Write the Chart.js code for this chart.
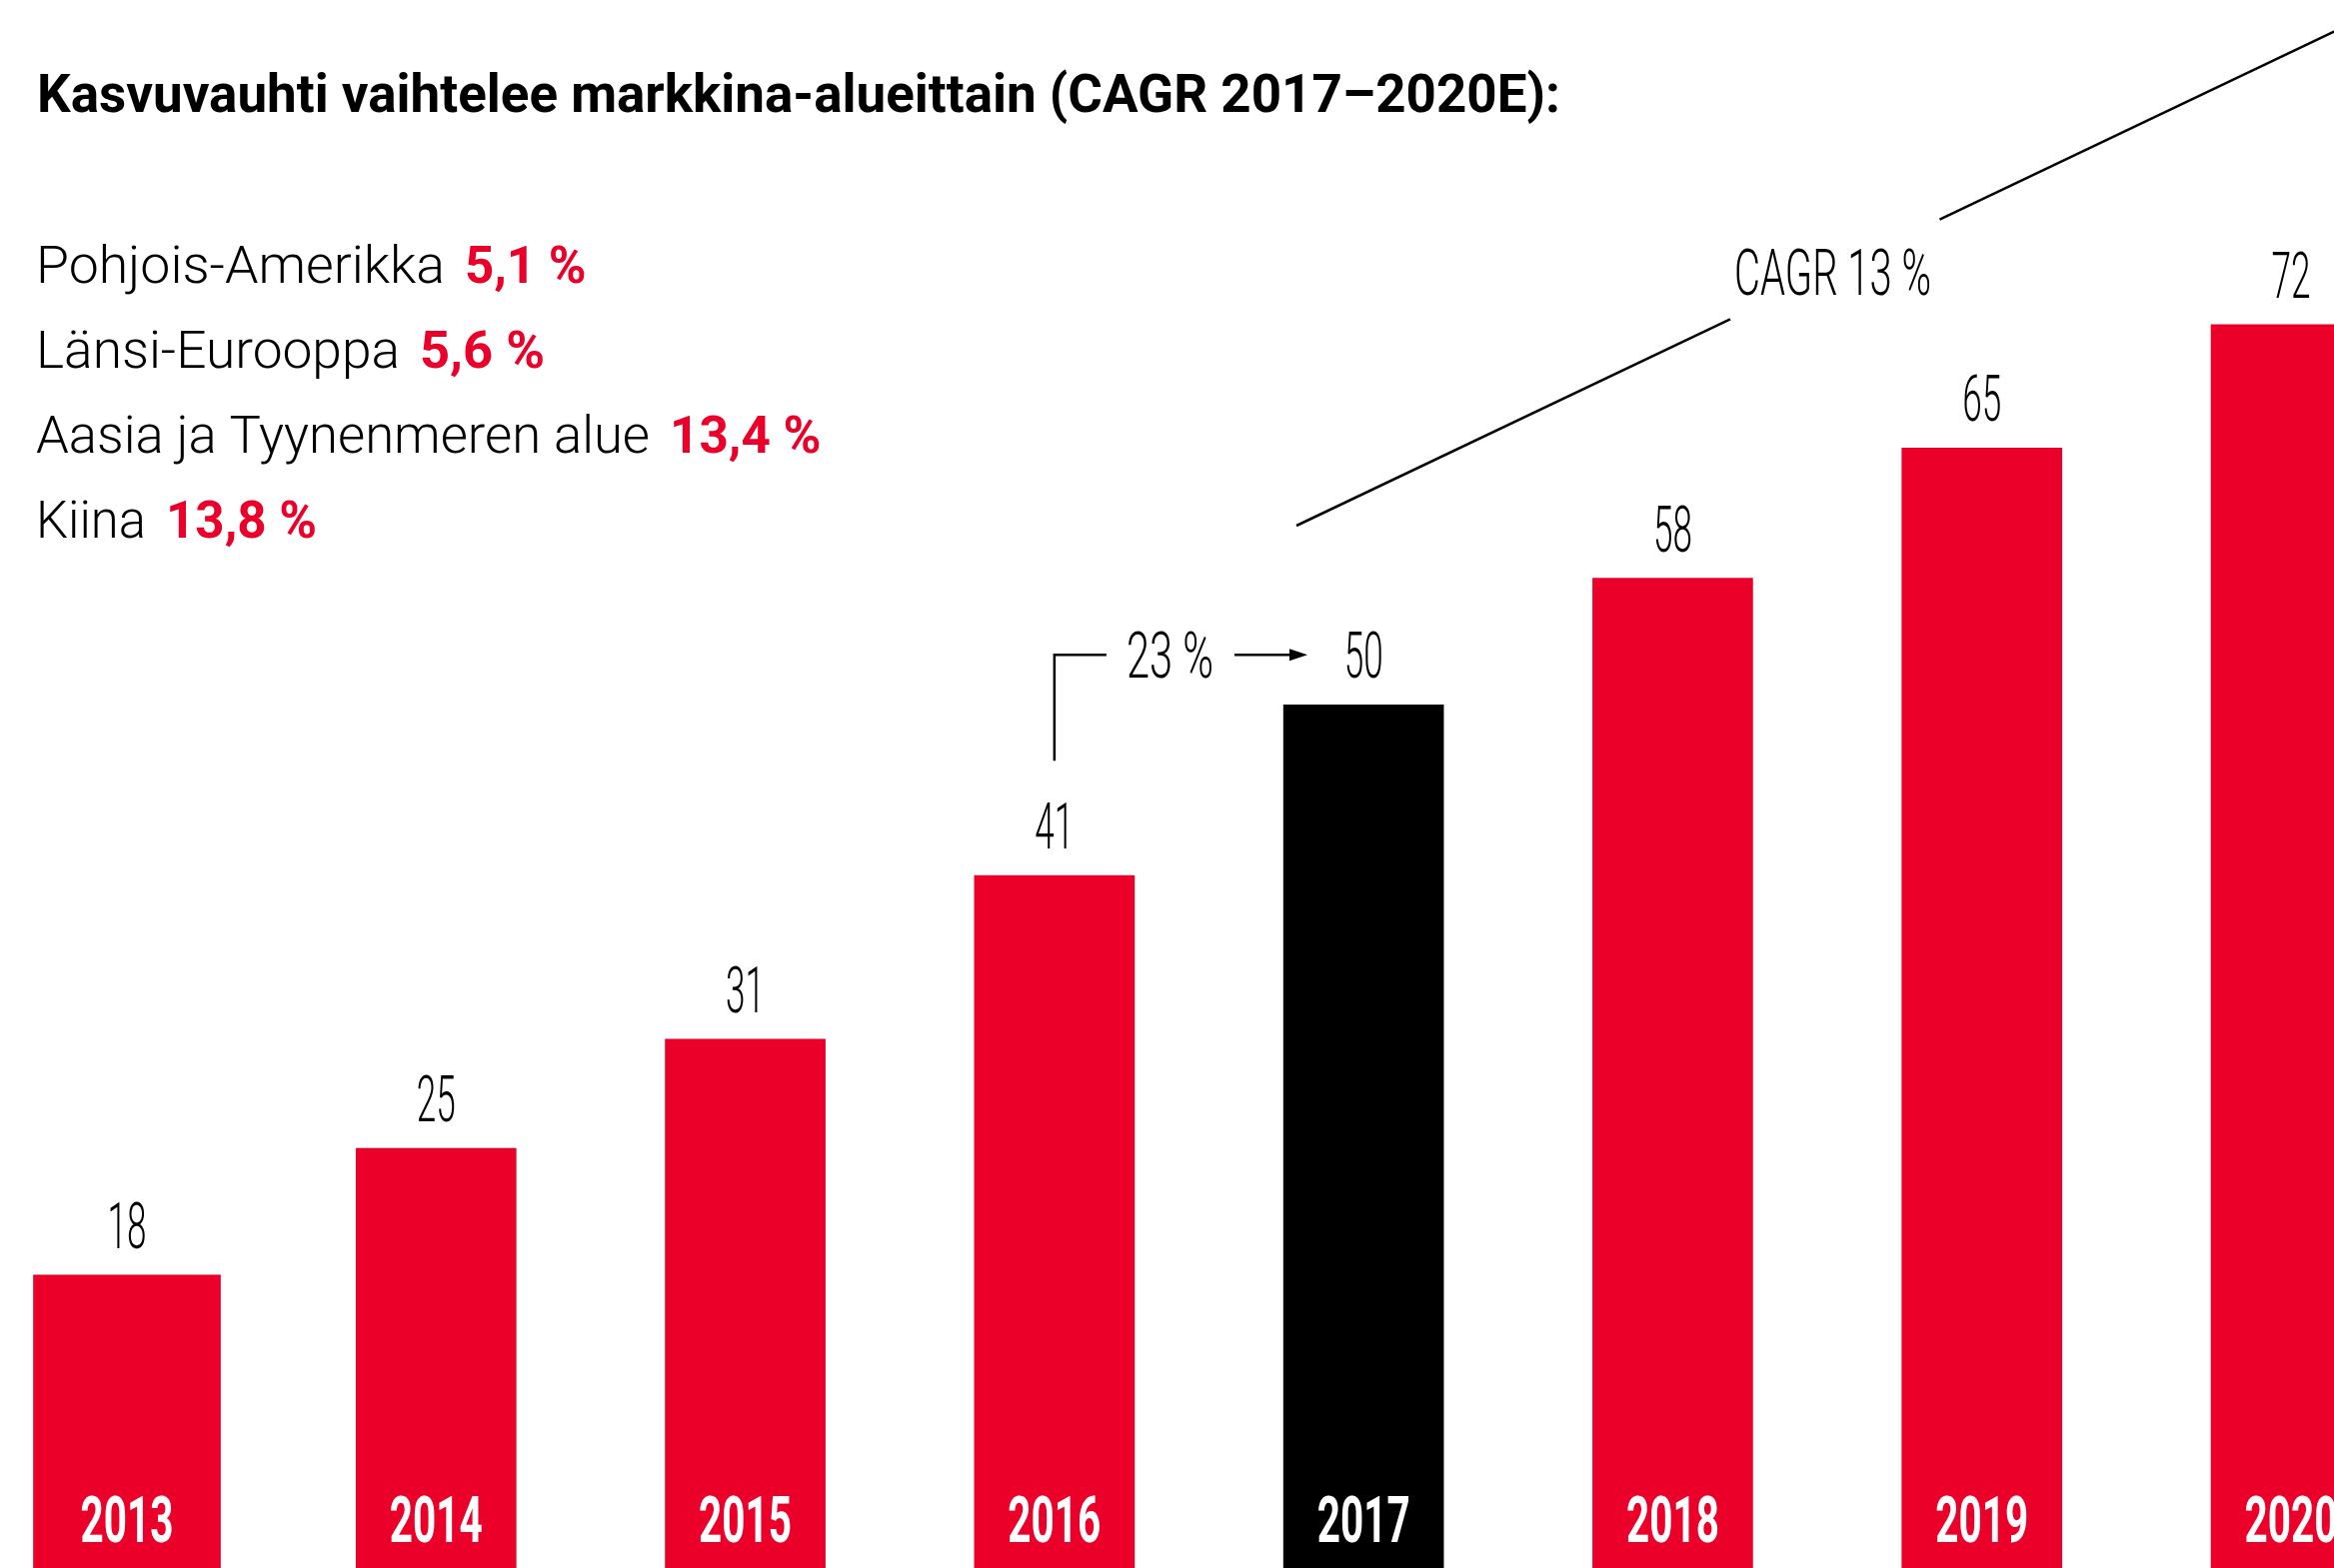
<!DOCTYPE html>
<html>
<head>
<meta charset="utf-8">
<title>Kasvuvauhti vaihtelee markkina-alueittain</title>
<script src="https://cdn.jsdelivr.net/npm/chart.js@4.4.1/dist/chart.umd.min.js"></script>
<style>
  html, body { margin: 0; padding: 0; background: #fff; overflow: hidden; }
  canvas { display: block; }
</style>
</head>
<body>
<canvas id="growthChart" width="2335" height="1569"></canvas>
<script>
// market size per year (bar heights, labels show them rounded)
const years = ["2013", "2014", "2015", "2016", "2017", "2018", "2019", "2020"];
const marketSize = [18, 25.2, 31.4, 40.7, 50.4, 57.6, 65.0, 72.0];
const actualYear = "2017";

// growth by market area (CAGR 2017-2020E)
const regions = ["Pohjois-Amerikka", "Länsi-Eurooppa", "Aasia ja Tyynenmeren alue", "Kiina"];
const regionCagr = [5.1, 5.6, 13.4, 13.8];

const growth2017 = 23;
const cagrTotal = 13;
const title = "Kasvuvauhti vaihtelee markkina-alueittain (CAGR 2017–2020E):";

const RED = "#EA0029";
const barColors = years.map(yr => yr === actualYear ? "#000000" : RED);
const pct = v => String(v).replace(".", ",") + " %";

// draws text squeezed horizontally by sx (the original uses a condensed font)
function drawCondensed(ctx, text, x, y, font, color, sx, align) {
  ctx.save();
  ctx.font = font;
  ctx.fillStyle = color;
  ctx.textAlign = "left";
  ctx.textBaseline = "alphabetic";
  const w = ctx.measureText(text).width * sx;
  const left = align === "center" ? x - w / 2 : x;
  ctx.translate(left, y);
  ctx.scale(sx, 1);
  ctx.fillText(text, 0, 0);
  ctx.restore();
  return w;
}

function squeezeFor(ctx, font, sample, width) {
  ctx.font = font;
  return width / ctx.measureText(sample).width;
}

// text fitted to a given width
function drawFitted(ctx, text, x, y, font, color, width) {
  return drawCondensed(ctx, text, x, y, font, color, squeezeFor(ctx, font, text, width));
}

const labelsPlugin = {
  id: "labels",
  afterDatasetsDraw(chart) {
    const { ctx, chartArea, scales: { x, y } } = chart;
    const thinFont = "300 65px Roboto";
    const boldFont = "bold 65px Roboto";
    const thinSx = squeezeFor(ctx, thinFont, "50", 39);
    const boldSx = squeezeFor(ctx, boldFont, "2017", 93);

    // value above each bar, year inside the bar
    years.forEach((yr, i) => {
      const cx = x.getPixelForValue(i);
      const top = y.getPixelForValue(marketSize[i]);
      drawCondensed(ctx, String(Math.round(marketSize[i])), cx, top - 27, thinFont, "#000", thinSx, "center");
      drawCondensed(ctx, yr, cx, chartArea.bottom - 26, boldFont, "#fff", boldSx, "center");
    });

    // title
    drawFitted(ctx, title, 37, 112, "bold 53px Roboto", "#000", 1524);

    // regional growth list
    const nameWidths = [409, 364, 614, 110];
    const rateWidths = [121.5, 125, 151.5, 151];
    regions.forEach((r, i) => {
      const base = 283 + i * 85;
      const w = drawFitted(ctx, r, 36, base, "300 51px Roboto", "#000", nameWidths[i]);
      drawFitted(ctx, pct(regionCagr[i]), 36 + w + 20, base, "bold 51px Roboto", RED, rateWidths[i]);
    });

    // 2016 -> 2017 growth bracket and arrow
    ctx.save();
    ctx.strokeStyle = "#000";
    ctx.fillStyle = "#000";
    ctx.lineWidth = 2.5;
    const rowY = y.getPixelForValue(marketSize[4]) - 27 - 23;
    const bx = x.getPixelForValue(3);
    ctx.beginPath();
    ctx.moveTo(bx, rowY + 106);
    ctx.lineTo(bx, rowY);
    ctx.lineTo(bx + 52, rowY);
    ctx.stroke();
    ctx.beginPath();
    ctx.moveTo(1235, rowY);
    ctx.lineTo(1292, rowY);
    ctx.stroke();
    ctx.beginPath();
    ctx.moveTo(1290, rowY - 6);
    ctx.lineTo(1308, rowY);
    ctx.lineTo(1290, rowY + 6);
    ctx.closePath();
    ctx.fill();

    // CAGR trend line, broken around its label
    ctx.beginPath();
    ctx.moveTo(1297, 526);
    ctx.lineTo(1731, 319.4);
    ctx.moveTo(1940.5, 219.6);
    ctx.lineTo(2400, 0.7);
    ctx.stroke();
    ctx.restore();

    drawFitted(ctx, pct(growth2017), 1127, rowY + 23, thinFont, "#000", 87);
    drawFitted(ctx, "CAGR " + pct(cagrTotal), 1735, 295, thinFont, "#000", 197);
  }
};

new Chart(document.getElementById("growthChart"), {
  type: "bar",
  data: {
    labels: years,
    datasets: [
      // the first bar is drawn wider in the original
      {
        data: marketSize.map((v, i) => i === 0 ? v : null),
        backgroundColor: barColors,
        barThickness: 187,
        grouped: false,
        clip: false
      },
      {
        data: marketSize.map((v, i) => i === 0 ? null : v),
        backgroundColor: barColors,
        barThickness: 160,
        grouped: false,
        clip: false
      }
    ]
  },
  options: {
    responsive: false,
    animation: false,
    layout: { padding: { left: 127, right: 43, top: 0, bottom: 0 } },
    scales: {
      x: { display: false, offset: false },
      y: { display: false, min: 1.36, max: 90.45 }
    },
    plugins: {
      legend: { display: false },
      tooltip: { enabled: false }
    }
  },
  plugins: [labelsPlugin]
});
</script>
</body>
</html>
